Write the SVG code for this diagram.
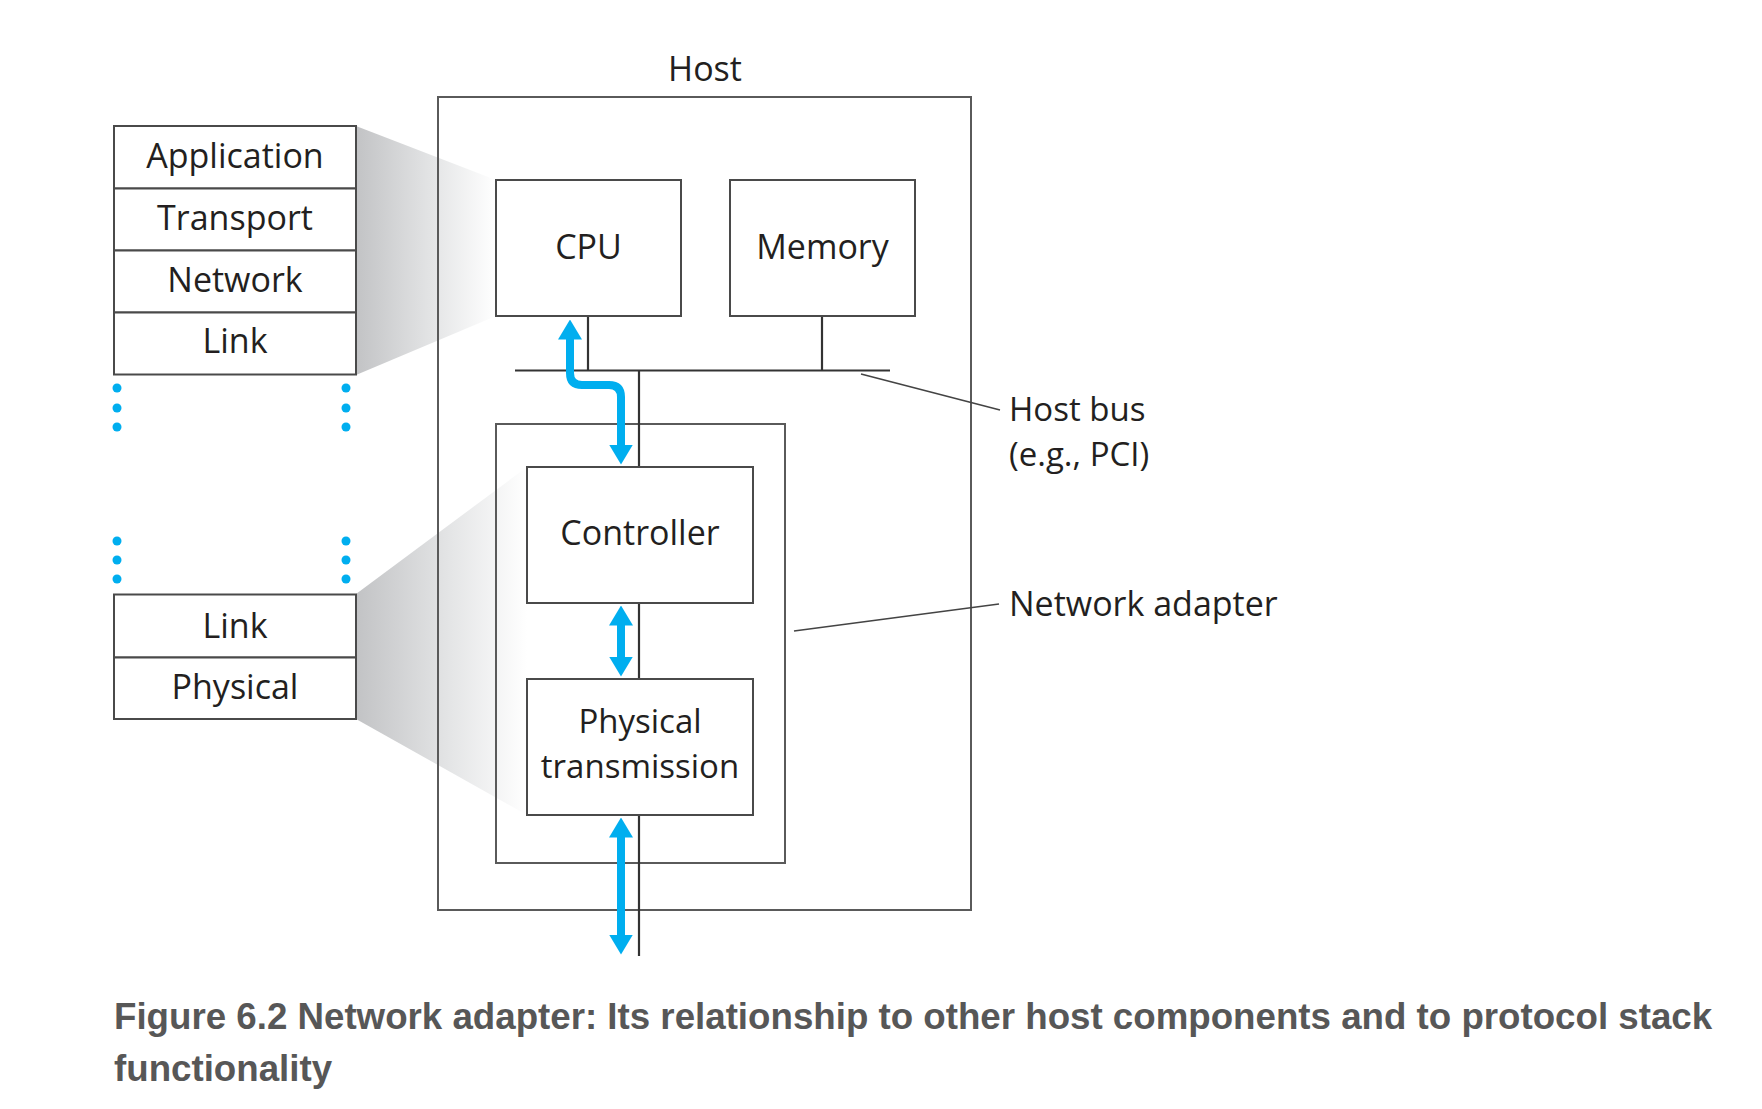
<svg xmlns="http://www.w3.org/2000/svg" width="1762" height="1109" viewBox="0 0 1762 1109">
<style>
.box{fill:#fff;stroke:#4a4a4a;stroke-width:2}
.frame{fill:none;stroke:#5a5a5a;stroke-width:2}
.t{font-family:"Open Sans","Noto Sans","DejaVu Sans",sans-serif;font-size:34px;fill:#231f20}
.t2{font-size:33px}
.c{text-anchor:middle}
.ln{stroke:#333;stroke-width:2.2;fill:none}
.lead{stroke:#444;stroke-width:1.6;fill:none}
.dot{fill:#00aeef}
.arr{stroke:#00aeef;stroke-width:8;fill:none;marker-start:url(#ah);marker-end:url(#ah)}
.cap{font-family:"Liberation Sans",Arial,sans-serif;font-weight:bold;font-size:36.7px;fill:#575757}
</style>
<defs>
<marker id="ah" viewBox="0 0 20 24" refX="0.5" refY="12" markerWidth="20" markerHeight="24" markerUnits="userSpaceOnUse" orient="auto-start-reverse">
<path d="M0,0 L20,12 L0,24 Z" fill="#00aeef"/>
</marker>
<linearGradient id="g1" gradientUnits="userSpaceOnUse" x1="356" y1="0" x2="496" y2="0">
<stop offset="0" stop-color="#c2c3c5"/>
<stop offset="0.55" stop-color="#e4e5e6"/>
<stop offset="1" stop-color="#ffffff"/>
</linearGradient>
<linearGradient id="g2" gradientUnits="userSpaceOnUse" x1="356" y1="0" x2="527" y2="0">
<stop offset="0" stop-color="#c2c3c5"/>
<stop offset="0.55" stop-color="#e4e5e6"/>
<stop offset="1" stop-color="#ffffff"/>
</linearGradient>
</defs>
<rect width="1762" height="1109" fill="#fff"/>

<g id="shading">
<polygon points="356,126 496,180 496,316 356,375" fill="url(#g1)"/>
<polygon points="356,594 527,467 527,815 356,719" fill="url(#g2)"/>
</g>

<g id="host">
<rect class="frame" x="438" y="97" width="533" height="813"/>
<text class="t c" x="705" y="81">Host</text>
</g>

<g id="network-adapter">
<rect class="frame" x="496" y="424" width="289" height="439"/>
</g>

<g id="connectors">
<line class="ln" x1="588" y1="316" x2="588" y2="370"/>
<line class="ln" x1="822" y1="316" x2="822" y2="370"/>
<line class="ln" x1="515" y1="370.5" x2="890" y2="370.5" stroke-width="3"/>
<line class="ln" x1="639" y1="370" x2="639" y2="956"/>
<line class="lead" x1="861" y1="374" x2="1000" y2="410"/>
<line class="lead" x1="794" y1="631" x2="999" y2="604"/>
</g>

<g id="stack-upper">
<rect class="box" x="114" y="126" width="242" height="62.5"/>
<rect class="box" x="114" y="188.5" width="242" height="62"/>
<rect class="box" x="114" y="250.5" width="242" height="62"/>
<rect class="box" x="114" y="312.5" width="242" height="62"/>
<text class="t c" x="235" y="168">Application</text>
<text class="t c" x="235" y="230">Transport</text>
<text class="t c" x="235" y="292">Network</text>
<text class="t c" x="235" y="353">Link</text>
</g>

<g id="dots">
<circle class="dot" cx="117" cy="388" r="4.5"/>
<circle class="dot" cx="117" cy="408" r="4.5"/>
<circle class="dot" cx="117" cy="427" r="4.5"/>
<circle class="dot" cx="346" cy="388" r="4.5"/>
<circle class="dot" cx="346" cy="408" r="4.5"/>
<circle class="dot" cx="346" cy="427" r="4.5"/>
<circle class="dot" cx="117" cy="541" r="4.5"/>
<circle class="dot" cx="117" cy="560" r="4.5"/>
<circle class="dot" cx="117" cy="579" r="4.5"/>
<circle class="dot" cx="346" cy="541" r="4.5"/>
<circle class="dot" cx="346" cy="560" r="4.5"/>
<circle class="dot" cx="346" cy="579" r="4.5"/>
</g>

<g id="stack-lower">
<rect class="box" x="114" y="594.5" width="242" height="63"/>
<rect class="box" x="114" y="657.5" width="242" height="61.5"/>
<text class="t c" x="235" y="638">Link</text>
<text class="t c" x="235" y="699">Physical</text>
</g>

<g id="cpu">
<rect class="box" x="496" y="180" width="185" height="136"/>
<text class="t c" x="588.5" y="259">CPU</text>
</g>

<g id="memory">
<rect class="box" x="730" y="180" width="185" height="136"/>
<text class="t c" x="822.5" y="259">Memory</text>
</g>

<g id="controller">
<rect class="box" x="527" y="467" width="226" height="136"/>
<text class="t c" x="640" y="545">Controller</text>
</g>

<g id="physical-transmission">
<rect class="box" x="527" y="679" width="226" height="136"/>
<text class="t t2 c" x="640" y="733">Physical</text>
<text class="t t2 c" x="640" y="778">transmission</text>
</g>

<g id="arrows">
<path class="arr" d="M570,339 L570,373 Q570,385 582,385 L609,385 Q621,385 621,397 L621,445"/>
<path class="arr" d="M621,625 L621,657"/>
<path class="arr" d="M621,837 L621,935"/>
</g>

<g id="labels">
<text class="t t2" x="1009" y="421">Host bus</text>
<text class="t t2" x="1009" y="466">(e.g., PCI)</text>
<text class="t" x="1009" y="616">Network adapter</text>
</g>

<g id="caption">
<text class="cap" x="114" y="1029">Figure 6.2 Network adapter: Its relationship to other host components and to protocol stack</text>
<text class="cap" x="114" y="1081">functionality</text>
</g>
</svg>
